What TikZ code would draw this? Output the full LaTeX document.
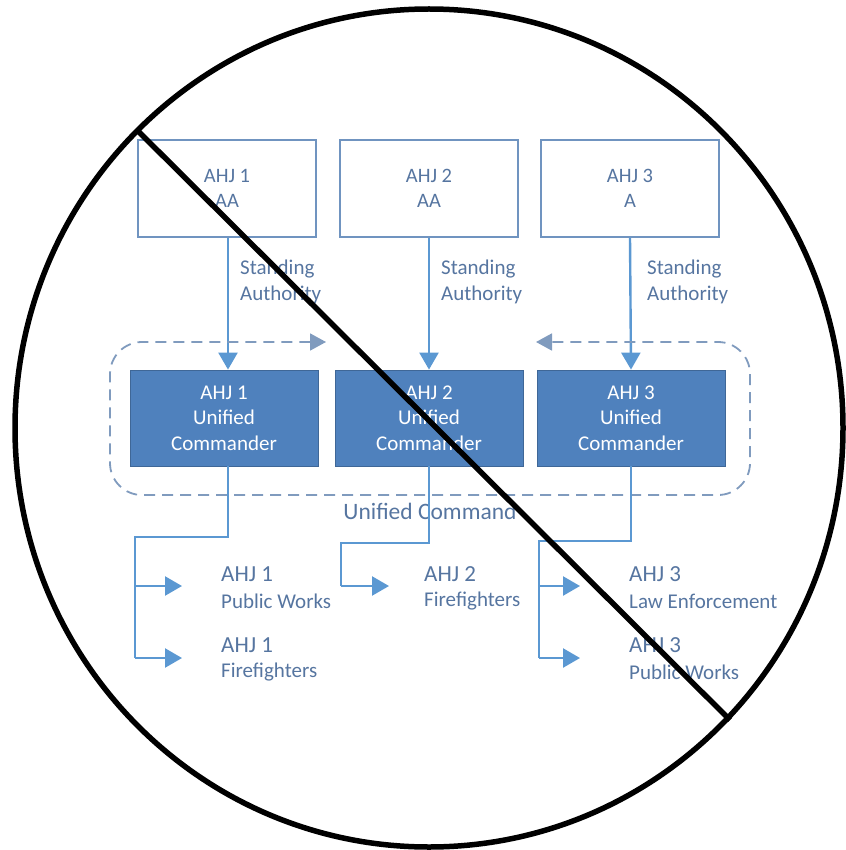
\documentclass[tikz,border=0pt]{standalone}
\usepackage{fontspec}
\setmainfont{Carlito}
\usetikzlibrary{arrows.meta}
\definecolor{lineblue}{RGB}{91,152,210}
\definecolor{boxblue}{RGB}{79,129,189}
\definecolor{edgeblue}{RGB}{112,148,192}
\definecolor{textblue}{RGB}{86,117,160}
\definecolor{dashblue}{RGB}{128,155,190}

\begin{document}
\begin{tikzpicture}[x=1pt,y=-1pt,
  topbox/.style={draw=edgeblue, line width=1.6pt, minimum width=178pt, minimum height=97pt,
    text=textblue, align=center, font=\fontsize{20.5}{25}\selectfont},
  cmdbox/.style={fill=boxblue, draw=boxblue!80!black, line width=0.8pt, minimum width=188pt,
    minimum height=96pt, text=white, align=center, font=\fontsize{21}{25.5}\selectfont},
  lbl/.style={text=textblue, align=left, inner sep=0pt, font=\fontsize{21}{26}\selectfont},
  unitlbl/.style={text=textblue, inner sep=0pt, anchor=west, font=\fontsize{23}{26}\selectfont},
  sublbl/.style={text=textblue, inner sep=0pt, anchor=west, font=\fontsize{21}{24}\selectfont},
  flow/.style={draw=lineblue, line width=2.4pt, -{Triangle[length=17pt,width=19pt]}},
  line/.style={draw=lineblue, line width=2.4pt},
  dashedge/.style={draw=dashblue, line width=1.8pt, dash pattern=on 11pt off 7pt,
    rounded corners=32pt, {Triangle[length=16pt,width=17pt]}-{Triangle[length=16pt,width=17pt]}}]
  \useasboundingbox (0,0) rectangle (845,850);

  % standing authorities
  \node[topbox] (t1) at (227,188.5) {AHJ 1\\AA};
  \node[topbox] (t2) at (429,188.5) {AHJ 2\\AA};
  \node[topbox] (t3) at (630,188.5) {AHJ 3\\A};

  % unified commanders
  \node[cmdbox] (c1) at (224,418) {AHJ 1\\Unified\\Commander};
  \node[cmdbox] (c2) at (429,418) {AHJ 2\\Unified\\Commander};
  \node[cmdbox] (c3) at (631,418) {AHJ 3\\Unified\\Commander};

  \draw[flow] (t1.south -| 228,0) -- (c1.north -| 228,0);
  \draw[flow] (t2.south) -- (c2.north);
  \draw[flow] (t3.south) -- (c3.north);
  \node[lbl, anchor=north west] (sa1) at (240,260) {Standing\\Authority};
  \node[lbl, anchor=north west] (sa2) at (441,260) {Standing\\Authority};
  \node[lbl, anchor=north west] (sa3) at (647,260) {Standing\\Authority};

  % unified command
  \draw[dashedge] (326,342) -- (110,342) -- (110,495) -- (750,495) -- (750,342) -- (536,342);
  \node[text=textblue, font=\fontsize{23.5}{28}\selectfont] (uc) at (430,511) {Unified Command};

  % assigned resources
  \coordinate (j1) at (135,537);
  \coordinate (j2) at (341,543);
  \coordinate (j3) at (539,541);
  \coordinate (e1a) at (182,586);
  \coordinate (e1b) at (182,658);
  \coordinate (e2a) at (389,586);
  \coordinate (e3a) at (580,586);
  \coordinate (e3b) at (580,658);

  \draw[line] (c1.south -| 228,0) |- (j1) -- (j1 |- e1b);
  \draw[flow] (j1 |- e1a) -- (e1a);
  \draw[flow] (j1 |- e1b) -- (e1b);
  \draw[line] (c2.south) |- (j2) -- (j2 |- e2a);
  \draw[flow] (j2 |- e2a) -- (e2a);
  \draw[line] (c3.south) |- (j3) -- (j3 |- e3b);
  \draw[flow] (j3 |- e3a) -- (e3a);
  \draw[flow] (j3 |- e3b) -- (e3b);

  \node[unitlbl] (u1a) at (221,574) {AHJ 1};
  \node[sublbl] (r1a) at (221,601) {Public Works};
  \node[unitlbl] (u1b) at (221,645) {AHJ 1};
  \node[sublbl] (r1b) at (221,672) {Firefighters};
  \node[unitlbl] (u2a) at (424,574) {AHJ 2};
  \node[sublbl] (r2a) at (424,601) {Firefighters};
  \node[unitlbl] (u3a) at (629,574) {AHJ 3};
  \node[sublbl] (r3a) at (629,601) {Law Enforcement};
  \node[unitlbl] (u3b) at (629,645) {AHJ 3};
  \node[sublbl] (r3b) at (629,672) {Public Works};

  % prohibition sign
  \draw[line width=5.5pt] (429,428) ellipse [x radius=414pt, y radius=419pt];
  \draw[line width=5.5pt] (137,130) -- (730,720);
\end{tikzpicture}
\end{document}
